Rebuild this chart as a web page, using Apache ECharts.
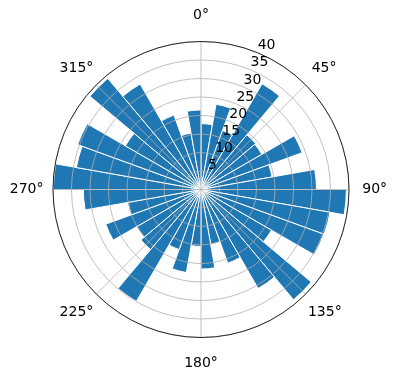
<!DOCTYPE html>
<html>
<head>
<meta charset="utf-8">
<script src="https://cdn.jsdelivr.net/npm/echarts@6/dist/echarts.min.js"></script>
<style>html,body{margin:0;padding:0;background:#fff;}#c{width:396px;height:380px;}</style>
</head>
<body>
<div id="c"></div>
<script>
// 36 direction sectors, 10 degrees each, clockwise from North
const directions = ['0','10','20','30','40','50','60','70','80','90','100','110','120','130','140','150','160','170',
  '180','190','200','210','220','230','240','250','260','270','280','290','300','310','320','330','340','350'];
const values = [17.8, 23.4, 17.0, 33.0, 19.3, 19.0, 29.1, 19.5, 31.2, 39.3, 35.4, 35.3,
  22.0, 38.9, 30.9, 21.2, 15.0, 21.5, 15.4, 22.8, 17.3, 34.9, 21.2, 20.0,
  27.4, 20.0, 31.8, 39.9, 34.2, 35.5, 23.6, 39.2, 32.9, 21.4, 15.5, 21.5];
const radialTicks = [5, 10, 15, 20, 25, 30, 35, 40];
const angleTicks = [0, 45, 90, 135, 180, 225, 270, 315];

const FONT = 'DejaVu Sans';
const center = [201, 189.5];
const R = 148;
const rMax = 40;

// label placement groups: ticks, distance from outer circle, small angular nudge (deg, clockwise)
const labelGroups = [
  {ticks: [0, 180], margin: 19, nudge: 0},
  {ticks: [90], margin: 13.3, nudge: 0},
  {ticks: [270], margin: 9.5, nudge: 0},
  {ticks: [45], margin: 11.3, nudge: -1},
  {ticks: [315], margin: 9.2, nudge: 1.75},
  {ticks: [135], margin: 9.4, nudge: 2.2},
  {ticks: [225], margin: 9.9, nudge: -2}
];

const polars = [{center: center, radius: R}, {center: center, radius: R}, {center: center, radius: R}];
const angleAxes = [
  {polarIndex: 0, type: 'category', data: directions, startAngle: 90, clockwise: true, boundaryGap: true,
   axisLine: {show: false}, axisTick: {show: false}, axisLabel: {show: false}, splitLine: {show: false}},
  {polarIndex: 1, type: 'value', min: 0, max: 360, interval: 45, startAngle: 90, clockwise: true, z: 10,
   axisLine: {show: true, lineStyle: {color: '#000', width: 0.8}}, axisTick: {show: false},
   axisLabel: {show: false}, splitLine: {show: true, lineStyle: {color: '#b0b0b0', width: 0.8}}},
  {polarIndex: 2, type: 'value', min: 0, max: 360, interval: 45, startAngle: 67.5, clockwise: true,
   axisLine: {show: false}, axisTick: {show: false}, axisLabel: {show: false}, splitLine: {show: false}}
];
const radiusAxes = [
  {polarIndex: 0, type: 'value', min: 0, max: rMax,
   axisLine: {show: false}, axisTick: {show: false}, axisLabel: {show: false}, splitLine: {show: false}},
  {polarIndex: 1, type: 'value', min: 0, max: rMax, interval: 5, z: 9,
   axisLine: {show: false}, axisTick: {show: false}, axisLabel: {show: false},
   splitLine: {show: true, lineStyle: {color: '#b0b0b0', width: 0.8}}},
  {polarIndex: 2, type: 'value', min: 0, max: rMax, interval: 5, z: 11,
   axisLine: {show: false}, axisTick: {show: false}, splitLine: {show: false},
   axisLabel: {show: true, margin: 0, color: '#000', fontFamily: FONT, fontSize: 14,
     align: 'left', verticalAlign: 'bottom', rotate: 0,
     formatter: v => radialTicks.indexOf(v) >= 0 ? String(v) : ''}}
];
labelGroups.forEach(g => {
  const idx = polars.length;
  polars.push({center: center, radius: R});
  angleAxes.push({polarIndex: idx, type: 'value', min: 0, max: 360, interval: 45,
    startAngle: 90 - g.nudge, clockwise: true, z: 10,
    axisLine: {show: false}, axisTick: {show: false}, splitLine: {show: false},
    axisLabel: {show: true, margin: g.margin, color: '#000', fontFamily: FONT, fontSize: 14,
      formatter: v => (g.ticks.indexOf(v) >= 0 && v < 360 && angleTicks.indexOf(v) >= 0) ? v + '°' : ''}});
  radiusAxes.push({polarIndex: idx, type: 'value', min: 0, max: rMax,
    axisLine: {show: false}, axisTick: {show: false}, axisLabel: {show: false}, splitLine: {show: false}});
});

const chart = echarts.init(document.getElementById('c'), null, {renderer: 'canvas'});
chart.setOption({
  animation: false,
  backgroundColor: '#fff',
  polar: polars,
  angleAxis: angleAxes,
  radiusAxis: radiusAxes,
  series: [{
    type: 'bar', coordinateSystem: 'polar', polarIndex: 0,
    data: values, barCategoryGap: '0%',
    itemStyle: {color: '#1f77b4', borderColor: '#ffffff', borderWidth: 1}
  }]
});
</script>
</body>
</html>
